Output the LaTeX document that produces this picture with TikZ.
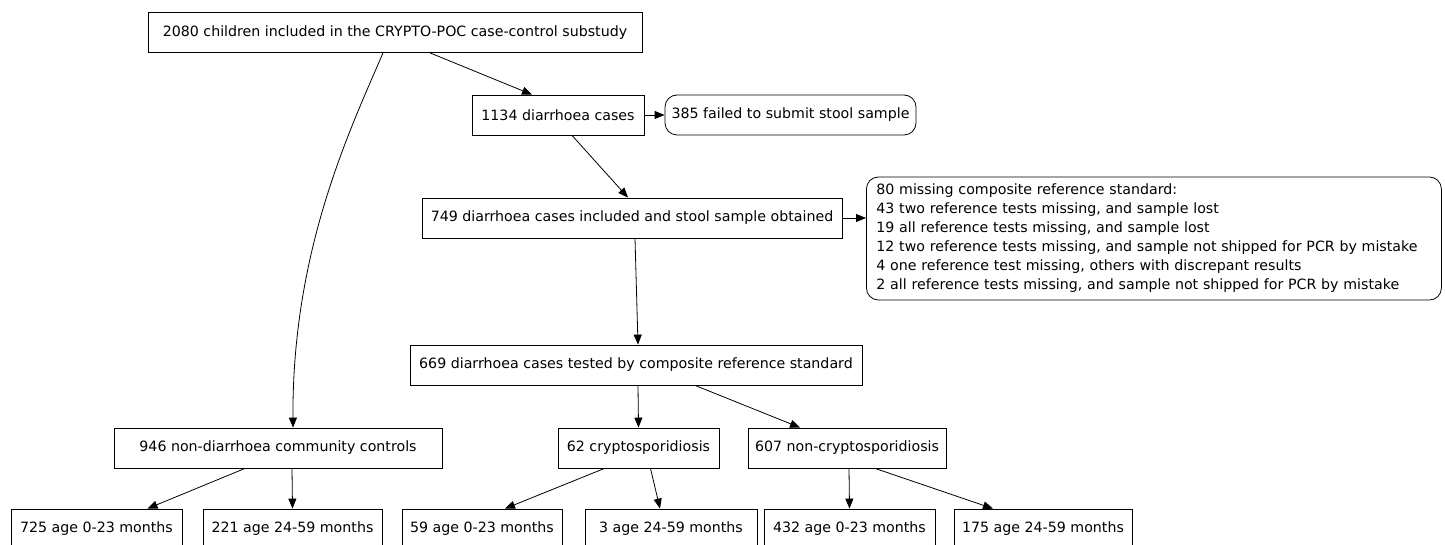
\documentclass[tikz,border=0pt]{standalone}
\usepackage{fontspec}
\setmainfont{DejaVu Sans}
\usetikzlibrary{arrows.meta}
\tikzset{
  box/.style={draw, line width=0.8pt, minimum height=40pt, inner xsep=4pt,
    font=\fontsize{14.2}{19}\selectfont},
  rbox/.style={box, rounded corners=12pt},
  arr/.style={-{Triangle[length=10pt,width=8pt]}, line width=0.8pt}
}

\begin{document}
\begin{tikzpicture}[x=1pt,y=-1pt]
\useasboundingbox (0,0) rectangle (1445,545);
\node[box, minimum width=494pt] (top) at (395,32.5) {2080 children included in the CRYPTO-POC case-control substudy};
\node[box, minimum width=172pt] (cases) at (558,115) {1134 diarrhoea cases};
\node[rbox, minimum width=251pt] (failed) at (790.5,115) {385 failed to submit stool sample};
\node[box, minimum width=420pt] (included) at (632,218) {749 diarrhoea cases included and stool sample obtained};
\node[rbox, align=left, inner xsep=10pt, inner ysep=6pt, anchor=west,
  minimum width=575pt, minimum height=123pt, text width=555pt] (missing) at (866,238.5) {80 missing composite reference standard:\\
43 two reference tests missing, and sample lost\\
19 all reference tests missing, and sample lost\\
12 two reference tests missing, and sample not shipped for PCR by mistake\\
4 one reference test missing, others with discrepant results\\
2 all reference tests missing, and sample not shipped for PCR by mistake};
\node[box, minimum width=452pt] (tested) at (636,365) {669 diarrhoea cases tested by composite reference standard};
\node[box, minimum width=328pt] (controls) at (278,448) {946 non-diarrhoea community controls};
\node[box, minimum width=161pt] (crypto) at (638.5,448) {62 cryptosporidiosis};
\node[box, minimum width=198pt] (noncrypto) at (847,448) {607 non-cryptosporidiosis};
% age groups
\foreach \n/\x/\w/\t in {c1/96.5/171/725 age 0-23 months, c2/292.5/179/221 age 24-59 months,
    k1/482/160/59 age 0-23 months, k2/671/172/3 age 24-59 months,
    n1/849.5/171/432 age 0-23 months, n2/1043/178/175 age 24-59 months}
{   \node[box, minimum width=\w pt] (\n) at (\x,529) {\t};
}

\draw[arr] ([xshift=-12pt]top.south) .. controls (350,130) and (292,250) .. ([xshift=15pt]controls.north);
\draw[arr] ([xshift=35pt]top.south) -- ([xshift=-26pt]cases.north);
\draw[arr] (cases.east) -- (failed.west);
\draw[arr] ([xshift=14pt]cases.south) -- ([xshift=-4pt]included.north);
\draw[arr] (included.east) -- (included.east -| missing.west);
\draw[arr] ([xshift=3pt]included.south) -- ([xshift=2pt]tested.north);
\draw[arr] ([xshift=2pt]tested.south) -- (crypto.north);
\draw[arr] ([xshift=59pt]tested.south) -- ([xshift=-47pt]noncrypto.north);
\draw[arr] ([xshift=-33pt]controls.south) -- ([xshift=51pt]c1.north);
\draw[arr] ([xshift=14pt]controls.south) -- (c2.north);
\draw[arr] ([xshift=-34pt]crypto.south) -- ([xshift=23pt]k1.north);
\draw[arr] ([xshift=12pt]crypto.south) -- ([xshift=-11pt]k2.north);
\draw[arr] ([xshift=2pt]noncrypto.south) -- (n1.north);
\draw[arr] ([xshift=28pt]noncrypto.south) -- ([xshift=-50pt]n2.north);
\end{tikzpicture}
\end{document}
